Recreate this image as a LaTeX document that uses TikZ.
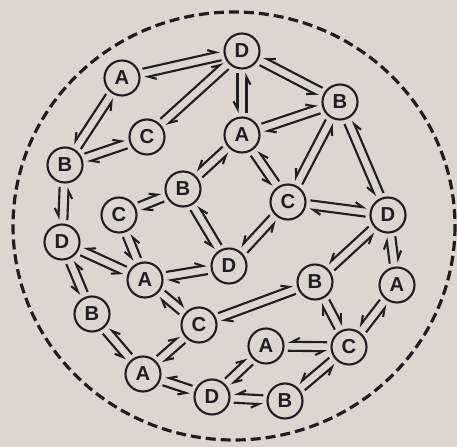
\documentclass[tikz,border=0pt]{standalone}
\usepackage{fontspec}
\setmainfont{Liberation Sans}
\usetikzlibrary{arrows.meta,calc}
\definecolor{paper}{RGB}{219,215,207}
\definecolor{ink}{RGB}{30,30,30}
\begin{document}
\begin{tikzpicture}[x=0.2mm, y=-0.2mm, line width=1.2pt, color=ink,
    letter/.style={circle, draw, minimum size=7mm, inner sep=0pt, font=\fontsize{11.5}{12}\selectfont\bfseries},
    harp/.style={-{Straight Barb[#1, length=1.5mm, width=1.6mm]}, shorten <=4.4mm, shorten >=4.4mm}]
    \fill[paper] (0,0) rectangle (457,447);
    \draw[line width=1.8pt, dash pattern=on 2mm off 1mm] (234,226) ellipse (221 and 214);
    \foreach \n/\x/\y/\lab in {d1/242/51/D, a1/122/78/A, b1/340/102/B, c1/147/137/C,
        a2/242/135/A, b2/65/165/B, b3/183/189/B, c2/288/202/C, d2/388/215/D,
        c3/119/215/C, d3/62/242/D, d4/229/266/D, a3/145/280/A, b4/315/282/B,
        a4/397/285/A, b5/92/314/B, c4/199/325/C, a5/266/346/A, c5/349/347/C,
        a6/143/374/A, d5/212/397/D, b6/285/401/B}
        \node[letter] (\n) at (\x,\y) {\lab};
    \foreach \a/\b in {a1/d1, c1/d1, b2/c1, c3/b3, a2/b1, c2/d2, a3/d4,
        a6/c4, d5/a5, b4/c5, d2/a4, c4/b4, a3/c4} {
        \draw[harp=left] ($(\a)!0.9mm!90:(\b)$) -- ($(\b)!0.9mm!-90:(\a)$);
        \draw[harp=left] ($(\b)!0.9mm!90:(\a)$) -- ($(\a)!0.9mm!-90:(\b)$);
    }
    \foreach \a/\b in {a1/b2, b2/d3, b3/a2, d1/b1, d1/a2, a2/c2, b1/c2,
        b1/d2, d3/a3, c3/a3, d3/b5, a6/d5, d5/b6, a5/c5, b6/c5, c5/a4,
        b4/d2, d4/c2, b3/d4, b5/a6} {
        \draw[harp=right] ($(\a)!0.9mm!-90:(\b)$) -- ($(\b)!0.9mm!90:(\a)$);
        \draw[harp=right] ($(\b)!0.9mm!-90:(\a)$) -- ($(\a)!0.9mm!90:(\b)$);
    }
\end{tikzpicture}
\end{document}
